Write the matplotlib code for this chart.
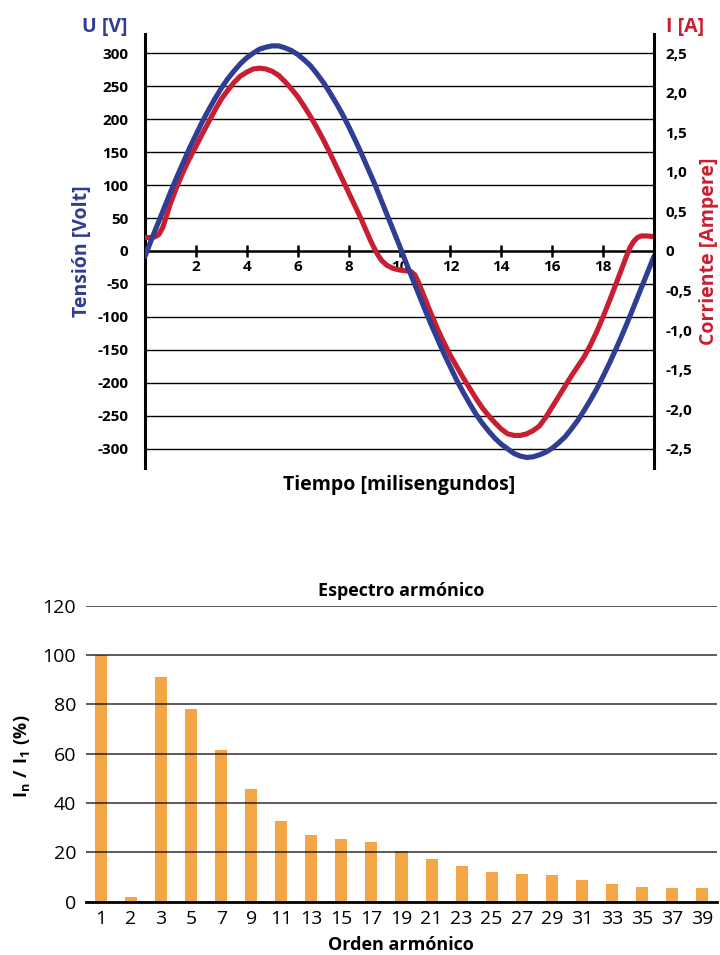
import matplotlib
matplotlib.use('Agg')
import matplotlib.pyplot as plt

plt.rcParams['font.family'] = ['Open Sans', 'DejaVu Sans']
plt.rcParams['mathtext.fontset'] = 'custom'
plt.rcParams['mathtext.rm'] = 'Open Sans'
plt.rcParams['mathtext.bf'] = 'Open Sans:bold'

BLUE   = '#2f3d92'
RED    = '#c81e32'
ORANGE = '#f4a646'

# ── waveform data ────────────────────────────────────────────────────────
t_volt = [0.0, 0.25, 0.5, 0.75, 1.0, 1.25, 1.5, 1.75, 2.0, 2.25, 2.5, 2.75,
          3.0, 3.25, 3.5, 3.75, 4.0, 4.25, 4.5, 4.75, 5.0, 5.25, 5.5, 5.75,
          6.0, 6.25, 6.5, 6.75, 7.0, 7.25, 7.5, 7.75, 8.0, 8.25, 8.5, 8.75,
          9.0, 9.25, 9.5, 9.75, 10.0, 10.25, 10.5, 10.75, 11.0, 11.25, 11.5,
          11.75, 12.0, 12.25, 12.5, 12.75, 13.0, 13.25, 13.5, 13.75, 14.0,
          14.25, 14.5, 14.75, 15.0, 15.25, 15.5, 15.75, 16.0, 16.25, 16.5,
          16.75, 17.0, 17.25, 17.5, 17.75, 18.0, 18.25, 18.5, 18.75, 19.0,
          19.25, 19.5, 19.75, 20.0]
volt = [-8, 17, 41, 65, 89, 112, 134, 156, 176, 196, 214, 231,
        247, 261, 273, 284, 293, 300, 306, 309, 311, 311, 308, 304,
        298, 290, 281, 269, 256, 241, 225, 208, 189, 169, 148, 126,
        104, 80, 56, 32, 8, -17, -41, -65, -89, -112, -134,
        -156, -176, -196, -214, -231, -247, -261, -273, -284, -293,
        -300, -307, -311, -313, -312, -309, -305, -299, -291, -282,
        -270, -257, -242, -226, -209, -190, -170, -149, -127, -104,
        -80, -56, -32, -8]

t_amp = [0.0, 0.25, 0.4, 0.55, 0.7, 0.85, 1.0, 1.25, 1.5, 1.75, 2.0, 2.25,
         2.5, 2.75, 3.0, 3.25, 3.5, 3.75, 4.0, 4.25, 4.5, 4.75, 5.0, 5.25,
         5.5, 5.75, 6.0, 6.25, 6.5, 6.75, 7.0, 7.25, 7.5, 7.75, 8.0, 8.25,
         8.5, 8.7, 8.85, 9.0, 9.15, 9.3, 9.5, 9.75, 10.0, 10.25, 10.45, 10.6,
         10.75, 11.0, 11.25, 11.5, 11.75, 12.0, 12.25, 12.5, 12.75, 13.0,
         13.25, 13.5, 13.75, 14.0, 14.25, 14.5, 14.75, 15.0, 15.25, 15.5,
         15.75, 16.0, 16.25, 16.5, 16.75, 17.0, 17.25, 17.5, 17.75, 18.0,
         18.25, 18.5, 18.75, 18.9, 19.05, 19.2, 19.35, 19.5, 19.75, 20.0]
amp = [0.17, 0.17, 0.18, 0.21, 0.30, 0.45, 0.60, 0.81, 1.00, 1.17, 1.32, 1.48,
       1.63, 1.78, 1.92, 2.03, 2.13, 2.21, 2.26, 2.30, 2.31, 2.30, 2.27, 2.22,
       2.14, 2.05, 1.95, 1.83, 1.70, 1.56, 1.41, 1.25, 1.08, 0.91, 0.74, 0.57,
       0.40, 0.25, 0.14, 0.04, -0.05, -0.12, -0.18, -0.22, -0.24, -0.25, -0.26,
       -0.30, -0.40, -0.60, -0.80, -0.99, -1.16, -1.32, -1.46, -1.60, -1.73,
       -1.86, -1.98, -2.08, -2.17, -2.25, -2.31, -2.33, -2.33, -2.31, -2.27,
       -2.21, -2.10, -1.97, -1.84, -1.71, -1.58, -1.46, -1.34, -1.19, -1.02,
       -0.83, -0.63, -0.42, -0.21, -0.08, 0.04, 0.12, 0.17, 0.19, 0.19, 0.18]

volt_ticks = [300, 250, 200, 150, 100, 50, 0, -50, -100, -150, -200, -250, -300]
amp_ticks  = [2.5, 2.0, 1.5, 1.0, 0.5, 0, -0.5, -1.0, -1.5, -2.0, -2.5]
amp_labels = ['2,5', '2,0', '1,5', '1,0', '0,5', '0', '-0,5', '-1,0', '-1,5',
              '-2,0', '-2,5']
time_ticks = [2, 4, 6, 8, 10, 12, 14, 16, 18]

# ── harmonic spectrum data ───────────────────────────────────────────────
orders = ['1', '2', '3', '5', '7', '9', '11', '13', '15', '17', '19', '21',
          '23', '25', '27', '29', '31', '33', '35', '37', '39']
ratio = [100, 2, 91, 78, 61.5, 45.5, 32.7, 27, 25.4, 24.2, 20.5, 17.3,
         14.5, 12.1, 11.3, 10.8, 8.8, 7.2, 6.0, 5.6, 5.6]

W, H = 720, 955
fig = plt.figure(figsize=(W / 100, H / 100), dpi=100)

# ── 1. Voltage / current waveform ────────────────────────────────────────
ax = fig.add_axes([145 / W, 1 - 468 / H, 509 / W, 434 / H])
ax2 = ax.twinx()
VLIM = 329
ax.set_xlim(0, 20)
ax.set_ylim(-VLIM, VLIM)
ax2.set_ylim(-VLIM / 120, VLIM / 120)

for v in volt_ticks:
    if v != 0:
        ax.axhline(v, color='black', linewidth=1.0, zorder=1)

# both curves live on the main axes so they cover the tick labels
ax.plot(t_amp, amp, color=RED, linewidth=3.7, solid_capstyle='round',
        solid_joinstyle='round', transform=ax2.transData, zorder=3)
ax.plot(t_volt, volt, color=BLUE, linewidth=3.7, solid_capstyle='round',
        solid_joinstyle='round', zorder=4)
ax.set_axisbelow(True)

for side in ['top', 'right']:
    ax.spines[side].set_visible(False)
for side in ['top', 'bottom', 'left']:
    ax2.spines[side].set_visible(False)
ax.spines['left'].set_linewidth(2.2)
ax2.spines['right'].set_linewidth(2.2)
ax.spines['bottom'].set_position(('data', 0))
ax.spines['bottom'].set_linewidth(1.8)

ax.set_yticks(volt_ticks)
ax.set_yticklabels([str(v) for v in volt_ticks])
ax.tick_params(axis='y', length=0, pad=12, labelsize=11)
ax2.set_yticks(amp_ticks)
ax2.set_yticklabels(amp_labels)
ax2.tick_params(axis='y', length=0, pad=8, labelsize=11)
ax.set_xticks(time_ticks)
ax.set_xticklabels([str(x) for x in time_ticks])
ax.tick_params(axis='x', direction='inout', length=9, width=1.8, pad=2,
               labelsize=11)
for lab in ax.get_yticklabels() + ax2.get_yticklabels() + ax.get_xticklabels():
    lab.set_fontweight('bold')

ax.text(0.5, -0.039, 'Tiempo [milisengundos]', transform=ax.transAxes,
        ha='center', va='center', fontsize=14, fontweight='bold')
fig.text(128 / W, 1 - 27 / H, 'U [V]', ha='right', va='center', fontsize=14,
         fontweight='bold', color=BLUE)
fig.text(666 / W, 1 - 27 / H, 'I [A]', ha='left', va='center', fontsize=14,
         fontweight='bold', color=RED)
fig.text(82 / W, 1 - 251 / H, 'Tensión [Volt]', rotation=90, ha='center',
         va='center', fontsize=14, fontweight='bold', color=BLUE)
fig.text(709 / W, 1 - 251 / H, 'Corriente [Ampere]', rotation=90, ha='center',
         va='center', fontsize=14, fontweight='bold', color=RED)

# ── 2. Harmonic spectrum ─────────────────────────────────────────────────
bx = fig.add_axes([86 / W, 1 - 901.7 / H, 631 / W, 296 / H])
pos = list(range(len(orders)))
bx.bar(pos, ratio, width=0.4, color=ORANGE, zorder=1)
bx.set_xlim(-0.5, len(orders) - 0.5)
bx.set_ylim(0, 120)
bx.set_yticks([0, 20, 40, 60, 80, 100, 120])
for g in [20, 40, 60, 80, 100, 120]:
    bx.axhline(g, color='black', alpha=0.75, linewidth=1.2, zorder=2)
bx.set_xticks(pos)
bx.set_xticklabels(orders)
bx.tick_params(axis='both', length=0, labelsize=14)
bx.tick_params(axis='x', pad=6)
bx.tick_params(axis='y', pad=7)
for side in ['top', 'right', 'left']:
    bx.spines[side].set_visible(False)
bx.spines['bottom'].set_linewidth(2.0)
bx.spines['bottom'].set_zorder(3)

bx.set_title('Espectro armónico', fontsize=13, fontweight='bold', pad=7)
fig.text(401 / W, 1 - 945 / H, 'Orden armónico', ha='center', va='center',
         fontsize=13, fontweight='bold')
fig.text(22 / W, 1 - 756 / H, r'$\mathbf{I_n\ /\ I_1\ (\%)}$', rotation=90,
         ha='center', va='center', fontsize=13)

fig.savefig('out.png', dpi=100)
